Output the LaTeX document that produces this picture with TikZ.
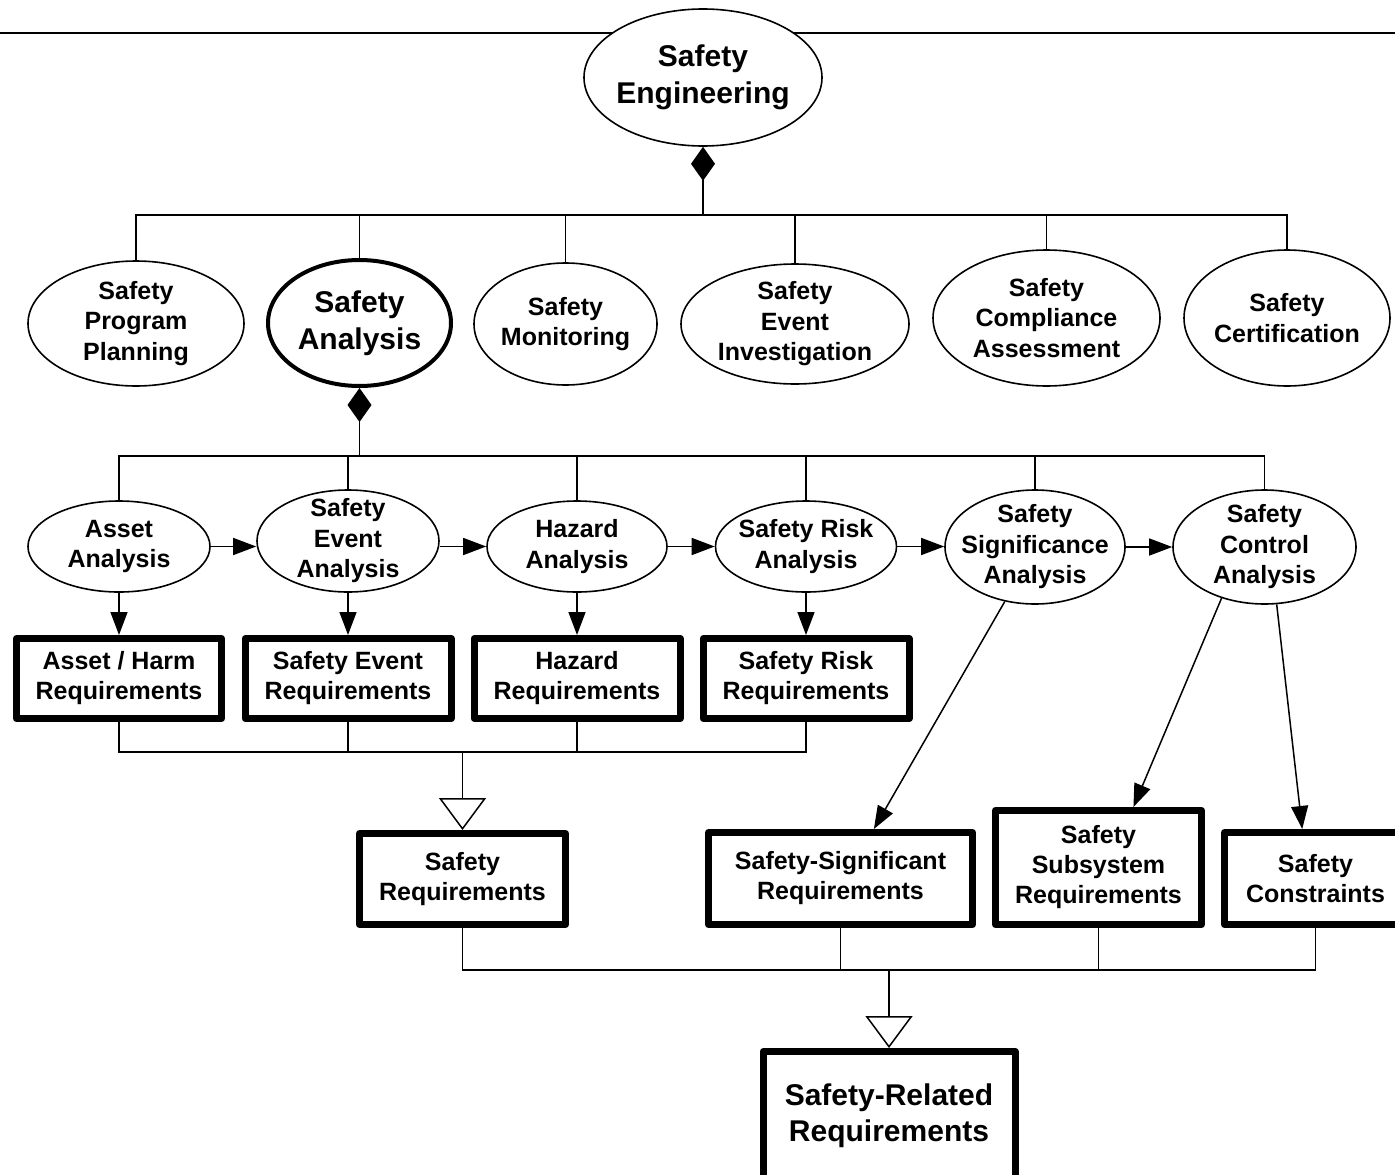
\documentclass[tikz,border=0pt]{standalone}
\usepackage{fontspec}
\setmainfont{Liberation Sans}
\usetikzlibrary{shapes.geometric,arrows.meta}
\begin{document}
\begin{tikzpicture}[x=1pt,y=-1pt,
  ell/.style={ellipse,draw,line width=1.6pt,fill=white,inner sep=-45pt,align=center,font=\fontsize{25}{30.5}\selectfont\bfseries},
  bigtxt/.style={font=\fontsize{30}{36.5}\selectfont\bfseries},
  box/.style={rectangle,draw,line width=7pt,line join=round,fill=white,inner sep=0pt,align=center,font=\fontsize{25}{30}\selectfont\bfseries},
  conn/.style={line width=1.5pt},
  arr/.style={line width=1.5pt,-{Triangle[length=23pt,width=17pt]}},
  comp/.style={line width=1.5pt,{Diamond[length=34pt,width=24pt]}-},
  gen/.style={line width=1.5pt,-{Triangle[open,length=32pt,width=47pt]}},
]
\useasboundingbox (0,0) rectangle (1395,1175);
\draw[conn] (0,33) -- (1395,33);

% top
\node[ell,bigtxt,minimum width=238pt,minimum height=137pt] (se) at (703,77.5) {Safety\\Engineering};

% row 2
\node[ell,minimum width=216pt,minimum height=125pt] (spp) at (136,323.5) {Safety\\Program\\Planning};
\node[ell,bigtxt,line width=4pt,minimum width=183pt,minimum height=126pt] (sa) at (359.5,323) {Safety\\Analysis};
\node[ell,minimum width=183pt,minimum height=122pt] (sm) at (565.5,324) {Safety\\Monitoring};
\node[ell,minimum width=228pt,minimum height=120pt] (sei) at (795,324) {Safety\\Event\\Investigation};
\node[ell,minimum width=227pt,minimum height=136pt] (sca) at (1046.5,318) {Safety\\Compliance\\Assessment};
\node[ell,minimum width=206pt,minimum height=136pt] (scert) at (1287,318) {Safety\\Certification};

\coordinate (b1) at (703,215);
\draw[comp] (se.south) -- (b1);
\foreach \n in {spp,sa,sm,sei,sca,scert} \draw[conn] (\n.north) |- (b1);

% row 3
\node[ell,minimum width=182pt,minimum height=91pt] (aa) at (119,546.5) {Asset\\Analysis};
\node[ell,minimum width=182pt,minimum height=102pt] (sea) at (348,541) {Safety\\Event\\Analysis};
\node[ell,minimum width=180pt,minimum height=91pt] (ha) at (577,546.5) {Hazard\\Analysis};
\node[ell,minimum width=181pt,minimum height=91pt] (sra) at (806,546.5) {Safety Risk\\Analysis};
\node[ell,minimum width=180pt,minimum height=114pt] (ssa) at (1035,547) {Safety\\Significance\\Analysis};
\node[ell,minimum width=183pt,minimum height=114pt] (sctl) at (1264.5,547) {Safety\\Control\\Analysis};

\coordinate (b2) at (359.5,456);
\draw[comp] (sa.south) -- (b2);
\foreach \n in {aa,sea,ha,sra,ssa,sctl} \draw[conn] (\n.north) |- (b2);

\draw[arr] (aa.east) -- (sea.west |- aa.east);
\draw[arr] (sea.east |- ha.west) -- (ha.west);
\draw[arr] (ha.east) -- (sra.west);
\draw[arr] (sra.east) -- (ssa.west |- sra.east);
\draw[arr] (ssa.east) -- (sctl.west);

% row 4
\node[box,minimum width=205pt,minimum height=80pt] (ahr) at (119,678.5) {Asset / Harm\\Requirements};
\node[box,minimum width=206pt,minimum height=80pt] (ser) at (348,678.5) {Safety Event\\Requirements};
\node[box,minimum width=206pt,minimum height=80pt] (hr) at (577,678.5) {Hazard\\Requirements};
\node[box,minimum width=206pt,minimum height=80pt] (srr) at (806,678.5) {Safety Risk\\Requirements};

\draw[arr] (aa.south) -- (ahr.north);
\draw[arr] (sea.south) -- (ser.north);
\draw[arr] (ha.south) -- (hr.north);
\draw[arr] (sra.south) -- (srr.north);

% row 5
\node[box,minimum width=206pt,minimum height=91pt] (sreq) at (462.5,879) {Safety\\Requirements};
\node[box,minimum width=264pt,minimum height=92pt] (ssr) at (840.5,878.5) {Safety-Significant\\Requirements};
\node[box,minimum width=206pt,minimum height=114pt] (subsys) at (1098.5,867.5) {Safety\\Subsystem\\Requirements};
\node[box,minimum width=182pt,minimum height=92pt] (cons) at (1315.5,878.5) {Safety\\Constraints};

\coordinate (b3) at (462.5,752);
\foreach \n in {ahr,ser,hr,srr} \draw[conn] (\n.south) |- (b3);
\draw[gen] (b3) -- (sreq.north);

\draw[arr] (ssa.241) -- (ssr.56);
\draw[arr] (sctl.230) -- (subsys.60);
\draw[arr] (sctl.282) -- (cons.105);

% bottom
\node[box,bigtxt,minimum width=252pt,minimum height=128pt] (srel) at (889,1115.5) {Safety-Related\\Requirements};
\coordinate (b4) at (889,970);
\foreach \n in {sreq,ssr,subsys,cons} \draw[conn] (\n.south) |- (b4);
\draw[gen] (b4) -- (srel.north);
\end{tikzpicture}
\end{document}
